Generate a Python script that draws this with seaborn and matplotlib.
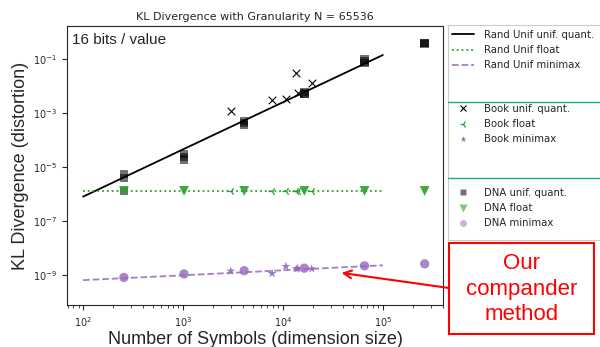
import numpy as np
import pandas as pd
import matplotlib
matplotlib.use('Agg')
import matplotlib.pyplot as plt
import seaborn as sns
from matplotlib.lines import Line2D
from matplotlib.patches import Rectangle

# Rand Unif (lines)
rand_sizes = [100, 1000, 10000, 100000]
rand_quant = [8e-7, 4.5e-5, 2.5e-3, 0.14]
rand_float = [1.3e-6, 1.3e-6, 1.3e-6, 1.3e-6]
rand_minimax = [6.5e-10, 9.8e-10, 1.5e-9, 2.3e-9]

# Book (scatter)
book_sizes = [3000, 7800, 10700, 13600, 14100, 19400]
book_quant = [1.2e-3, 3.0e-3, 3.4e-3, 3.1e-2, 5.6e-3, 1.3e-2]
book_float = [1.3e-6, 1.3e-6, 1.3e-6, 1.3e-6, 1.25e-6, 1.3e-6]
book_minimax = [1.4e-9, 1.15e-9, 2.1e-9, 1.7e-9, 1.75e-9, 1.7e-9]

# DNA (scatter, several runs for unif quant)
dna_sizes = [256, 1024, 4096, 16384, 65536, 262144]
dna_quant_run1 = [5.5e-6, 3.0e-5, 5.0e-4, 6.0e-3, 0.095, 0.40]
dna_quant_run2 = [4.0e-6, 2.4e-5, 4.2e-4, 5.3e-3, 0.080, 0.38]
dna_quant_run3 = [1.3e-6, 1.9e-5, 3.6e-4, 5.0e-3, 0.070, 0.36]
dna_float = [1.3e-6, 1.3e-6, 1.3e-6, 1.3e-6, 1.3e-6, 1.3e-6]
dna_minimax = [8.2e-10, 1.1e-9, 1.45e-9, 1.8e-9, 2.2e-9, 2.6e-9]

green = '#2ca02c'
purple = '#9467bd'

sns.set_style('ticks')
plt.rcParams['font.family'] = ['DejaVu Sans']

W, H = 600, 347
fig = plt.figure(figsize=(6, 3.47), dpi=100)
ax = fig.add_axes([67/W, 1-305/H, (443-67)/W, (305-26)/H])

# lines
sns.lineplot(x=rand_sizes, y=rand_quant, ax=ax, color='k', lw=1.3)
sns.lineplot(x=rand_sizes, y=rand_float, ax=ax, color=green, lw=1.3, linestyle=':')
sns.lineplot(x=rand_sizes, y=rand_minimax, ax=ax, color=purple, lw=1.3, linestyle='--', alpha=0.85)

# DNA
for run in [dna_quant_run1, dna_quant_run2, dna_quant_run3]:
    sns.scatterplot(x=dna_sizes, y=run, ax=ax, marker='s', color='k', s=36,
                    alpha=0.55, edgecolor='none', legend=False)
sns.scatterplot(x=dna_sizes, y=dna_float, ax=ax, marker='v', color=green, s=50,
                alpha=0.9, edgecolor='none', legend=False)
sns.scatterplot(x=dna_sizes, y=dna_minimax, ax=ax, marker='o', color=purple, s=45,
                alpha=0.8, edgecolor='none', legend=False)

# Book
sns.scatterplot(x=book_sizes, y=book_quant, ax=ax, marker='x', color='k', s=30,
                linewidth=0.8, legend=False)
sns.scatterplot(x=book_sizes, y=book_float, ax=ax, marker='3', color=green, s=35,
                linewidth=0.9, legend=False)
sns.scatterplot(x=book_sizes, y=book_minimax, ax=ax, marker='*', color=purple, s=45,
                edgecolor='none', alpha=0.9, legend=False)

ax.set_xscale('log')
ax.set_yscale('log')
ax.set_xlim(69, 4.0e5)
ax.set_ylim(7.8e-11, 1.66)
ax.set_yticks([1e-9, 1e-7, 1e-5, 1e-3, 1e-1])
ax.yaxis.set_minor_locator(matplotlib.ticker.NullLocator())
ax.tick_params(labelsize=7, length=3.5)
ax.tick_params(which='minor', length=2)

ax.set_title('KL Divergence with Granularity N = 65536', fontsize=8, pad=4)
ax.set_xlabel('Number of Symbols (dimension size)', fontsize=13,
              family='Liberation Sans', labelpad=2)
ax.set_ylabel('KL Divergence (distortion)', fontsize=13,
              family='Liberation Sans', labelpad=3)
ax.text(0.012, 0.975, '16 bits / value', transform=ax.transAxes, ha='left', va='top',
        fontsize=11, family='Liberation Sans')

# legend (three groups)
leg_kw = dict(loc='upper left', frameon=False, fontsize=7.3, handlelength=2.2,
              labelspacing=0.5, handletextpad=1.0, borderaxespad=0, borderpad=0)
g1 = [Line2D([], [], color='k', lw=1.3),
      Line2D([], [], color=green, lw=1.3, linestyle=':'),
      Line2D([], [], color=purple, lw=1.3, linestyle='--', alpha=0.85)]
g2 = [Line2D([], [], color='k', marker='x', ms=5, lw=0, mew=0.8),
      Line2D([], [], color=green, marker='3', ms=5, lw=0, mew=0.9),
      Line2D([], [], color=purple, marker='*', ms=5, lw=0, mec='none')]
g3 = [Line2D([], [], color='k', marker='s', ms=5, lw=0, alpha=0.55, mec='none'),
      Line2D([], [], color=green, marker='v', ms=5.5, lw=0, alpha=0.6, mec='none'),
      Line2D([], [], color=purple, marker='o', ms=5, lw=0, alpha=0.5, mec='none')]
fig.legend(g1, ['Rand Unif unif. quant.', 'Rand Unif float', 'Rand Unif minimax'],
           bbox_to_anchor=(452/W, 1-30/H), **leg_kw)
fig.legend(g2, ['Book unif. quant.', 'Book float', 'Book minimax'],
           bbox_to_anchor=(452/W, 1-104/H), **leg_kw)
fig.legend(g3, ['DNA unif. quant.', 'DNA float', 'DNA minimax'],
           bbox_to_anchor=(452/W, 1-188/H), **leg_kw)
fig.patches.append(Rectangle((448/W, 1-240/H), 160/W, 215/H, transform=fig.transFigure,
                             fill=False, edgecolor='#cccccc', lw=0.8))
for yy in [102, 178]:
    fig.lines.append(Line2D([448/W, 1.0], [1-yy/H, 1-yy/H], transform=fig.transFigure,
                            color='#1aaa8a', lw=1.0))

# annotation
fig.patches.append(Rectangle((449/W, 1-334/H), 145/W, 91/H, transform=fig.transFigure,
                             fill=False, edgecolor='red', lw=1.5))
fig.text(522/W, 1-289/H, 'Our\ncompander\nmethod', ha='center', va='center',
         color='red', fontsize=16, family='Liberation Sans', linespacing=1.28)
ax.annotate('', xy=(38600, 1.2e-9), xycoords='data',
            xytext=(449, H-288), textcoords='figure pixels',
            arrowprops=dict(arrowstyle='->', color='red', lw=1.5,
                            shrinkA=0, shrinkB=0, mutation_scale=14),
            annotation_clip=False)

fig.savefig('out.png', dpi=100)
